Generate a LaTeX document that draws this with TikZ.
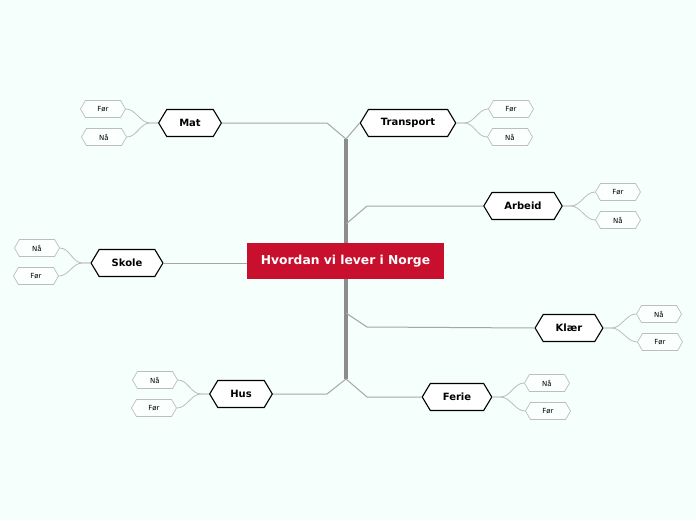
\documentclass[tikz,border=0pt]{standalone}
\usepackage{fontspec}
\setmainfont{DejaVu Sans}
\usetikzlibrary{shapes.symbols}
\definecolor{bgmint}{HTML}{F5FFFB}
\definecolor{rootred}{HTML}{C8102E}
\definecolor{trunkgray}{HTML}{8C8C8C}
\definecolor{branchgray}{HTML}{A6A6A6}
\definecolor{leafgray}{HTML}{BDBDBD}
\begin{document}
\begin{tikzpicture}[x=1pt,y=-1pt,
    root/.style={rectangle, fill=rootred, text=white, font=\bfseries\fontsize{12.3}{14}\selectfont, minimum width=197pt, minimum height=36pt},
    topic/.style={signal, signal to=west and east, signal pointer angle=118, draw=black, line width=1.1pt, fill=white, font=\bfseries\fontsize{10}{12}\selectfont, minimum height=27pt, inner xsep=12.5pt},
    leaf/.style={signal, signal to=west and east, signal pointer angle=120, draw=leafgray, line width=0.7pt, fill=white!60!bgmint, font=\fontsize{7}{8}\selectfont, minimum height=17pt, minimum width=45pt, inner sep=1pt},
    branch/.style={draw=branchgray, line width=1pt},
    twig/.style={draw=leafgray, line width=0.8pt}]
        \fill[bgmint] (0,0) rectangle (696,520);
        \coordinate (top) at (346,139);
        \coordinate (bot) at (346,379);
        \coordinate (armjoint) at (346,224);
        \coordinate (klaerjoint) at (346,313);
        \coordinate (matbend) at (327,123);
        \coordinate (arbbend) at (367,206);
        \coordinate (klaerbend) at (367,327);
        \coordinate (husbend) at (327,394);
        \coordinate (feriebend) at (367,397);
        \draw[trunkgray,line width=4pt] (top) -- (bot);
        \node[root] (norge) at (345.5,261) {Hvordan vi lever i Norge};
        \node[topic] (mat) at (190,123) {Mat};
        \node[topic] (transport) at (408,123) {Transport};
        \node[topic] (arbeid) at (523,206) {Arbeid};
        \node[topic] (skole) at (127,263) {Skole};
        \node[topic] (klaer) at (569,328) {Klær};
        \node[topic] (hus) at (241,394) {Hus};
        \node[topic] (ferie) at (457,397) {Ferie};
        \node[leaf] (matfor) at (103,109) {Før};
        \node[leaf] (matna) at (104,137) {Nå};
        \node[leaf] (transportfor) at (511,109) {Før};
        \node[leaf] (transportna) at (510,137) {Nå};
        \node[leaf] (arbeidfor) at (618,192) {Før};
        \node[leaf] (arbeidna) at (618,220) {Nå};
        \node[leaf] (skolena) at (37,248) {Nå};
        \node[leaf] (skolefor) at (36,276) {Før};
        \node[leaf] (klaerna) at (659,314) {Nå};
        \node[leaf] (klaerfor) at (660,342) {Før};
        \node[leaf] (husna) at (155,380) {Nå};
        \node[leaf] (husfor) at (154,408) {Før};
        \node[leaf] (feriena) at (547,383) {Nå};
        \node[leaf] (feriefor) at (548,411) {Før};
        \draw[branch] (top) -- (matbend) -- (mat.east);
        \draw[branch] (top) -- (transport.west);
        \draw[branch] (armjoint) -- (arbbend) -- (arbeid.west);
        \draw[branch] (norge.west |- skole.east) -- (skole.east);
        \draw[branch] (klaerjoint) -- (klaerbend) -- (klaer.west);
        \draw[branch] (bot) -- (husbend) -- (hus.east);
        \draw[branch] (bot) -- (feriebend) -- (ferie.west);
        \draw[twig] (mat.west) -- ++(-8,0) .. controls +(-10,0) and +(10,0) .. (matfor.east);
        \draw[twig] (mat.west) -- ++(-8,0) .. controls +(-10,0) and +(10,0) .. (matna.east);
        \draw[twig] (transport.east) -- ++(8,0) .. controls +(10,0) and +(-10,0) .. (transportfor.west);
        \draw[twig] (transport.east) -- ++(8,0) .. controls +(10,0) and +(-10,0) .. (transportna.west);
        \draw[twig] (arbeid.east) -- ++(8,0) .. controls +(10,0) and +(-10,0) .. (arbeidfor.west);
        \draw[twig] (arbeid.east) -- ++(8,0) .. controls +(10,0) and +(-10,0) .. (arbeidna.west);
        \draw[twig] (skole.west) -- ++(-8,0) .. controls +(-10,0) and +(10,0) .. (skolena.east);
        \draw[twig] (skole.west) -- ++(-8,0) .. controls +(-10,0) and +(10,0) .. (skolefor.east);
        \draw[twig] (klaer.east) -- ++(8,0) .. controls +(10,0) and +(-10,0) .. (klaerna.west);
        \draw[twig] (klaer.east) -- ++(8,0) .. controls +(10,0) and +(-10,0) .. (klaerfor.west);
        \draw[twig] (hus.west) -- ++(-8,0) .. controls +(-10,0) and +(10,0) .. (husna.east);
        \draw[twig] (hus.west) -- ++(-8,0) .. controls +(-10,0) and +(10,0) .. (husfor.east);
        \draw[twig] (ferie.east) -- ++(8,0) .. controls +(10,0) and +(-10,0) .. (feriena.west);
        \draw[twig] (ferie.east) -- ++(8,0) .. controls +(10,0) and +(-10,0) .. (feriefor.west);
\end{tikzpicture}
\end{document}
